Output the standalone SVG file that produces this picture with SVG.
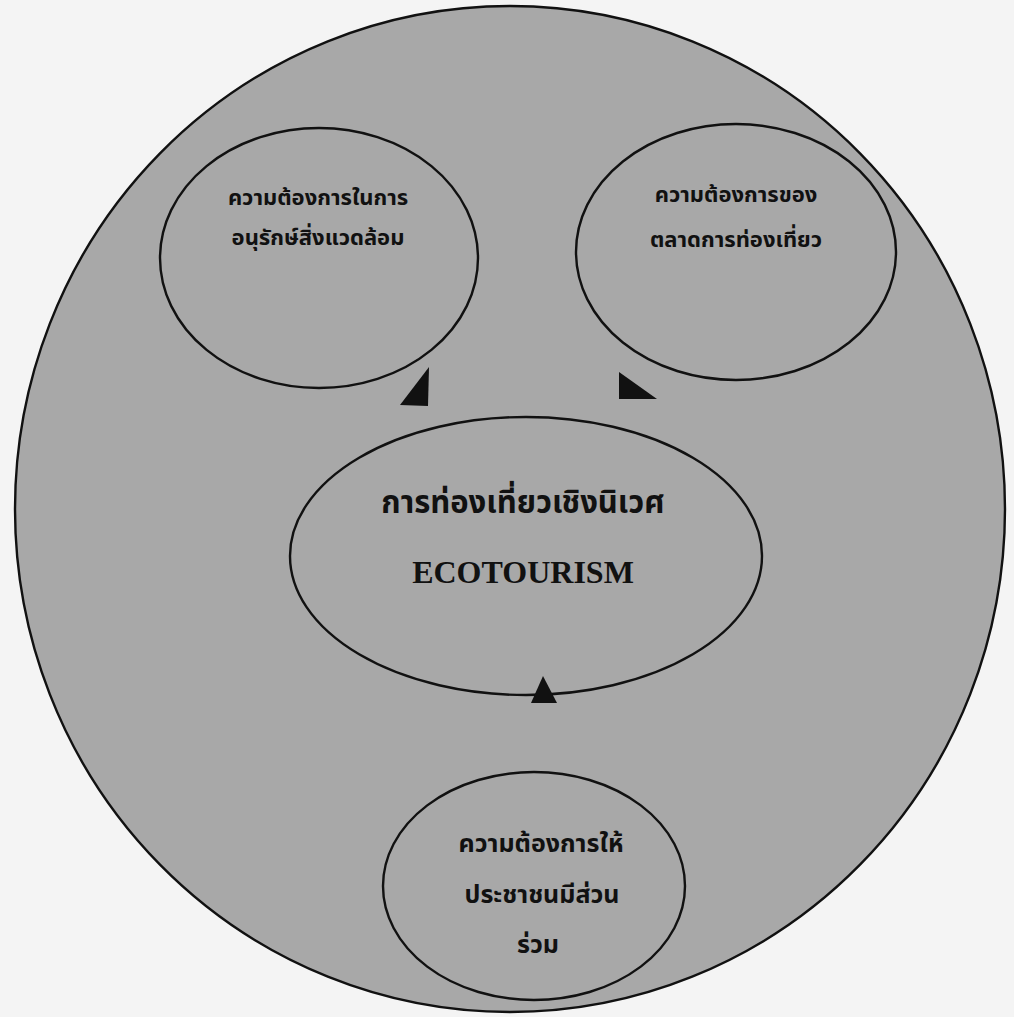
<svg xmlns="http://www.w3.org/2000/svg" width="1014" height="1017" viewBox="0 0 1014 1017">
  <style>
    .bubble { fill: #a8a8a8; stroke: #111; stroke-width: 2.4; }
    .th { font-family: "Noto Sans Thai", "Noto Sans", "DejaVu Sans", sans-serif; font-weight: bold; fill: #111; text-anchor: middle; }
    .en { font-family: "Liberation Serif", "Times New Roman", serif; font-weight: bold; fill: #111; text-anchor: middle; }
    .arrow { fill: #111; stroke: none; }
  </style>
  <rect x="0" y="0" width="1014" height="1017" fill="#f4f4f4"/>
  <g id="outer">
    <ellipse class="bubble" cx="510" cy="509" rx="495" ry="503"/>
  </g>
  <g id="node-conservation">
    <ellipse class="bubble" cx="319" cy="258" rx="159" ry="130"/>
    <text class="th" x="318" y="205" font-size="22">ความต้องการในการ</text>
    <text class="th" x="318" y="245" font-size="22">อนุรักษ์สิ่งแวดล้อม</text>
  </g>
  <g id="node-market">
    <ellipse class="bubble" cx="736" cy="252" rx="160" ry="128"/>
    <text class="th" x="736" y="202" font-size="22">ความต้องการของ</text>
    <text class="th" x="736" y="247" font-size="22">ตลาดการท่องเที่ยว</text>
  </g>
  <g id="node-ecotourism">
    <ellipse class="bubble" cx="526" cy="556" rx="236" ry="139"/>
    <text class="th" x="523" y="513" font-size="31">การท่องเที่ยวเชิงนิเวศ</text>
    <text class="en" x="523" y="583" font-size="32">ECOTOURISM</text>
  </g>
  <g id="node-participation">
    <ellipse class="bubble" cx="534" cy="886" rx="151" ry="114"/>
    <text class="th" x="541" y="852" font-size="25">ความต้องการให้</text>
    <text class="th" x="542" y="903" font-size="25">ประชาชนมีส่วน</text>
    <text class="th" x="538" y="953" font-size="25">ร่วม</text>
  </g>
  <g id="connectors">
    <polygon class="arrow" points="429,367 400,405 428,406"/>
    <polygon class="arrow" points="619,372 619,399 657,399"/>
    <polygon class="arrow" points="543,676 531,703 557,703"/>
  </g>
</svg>
